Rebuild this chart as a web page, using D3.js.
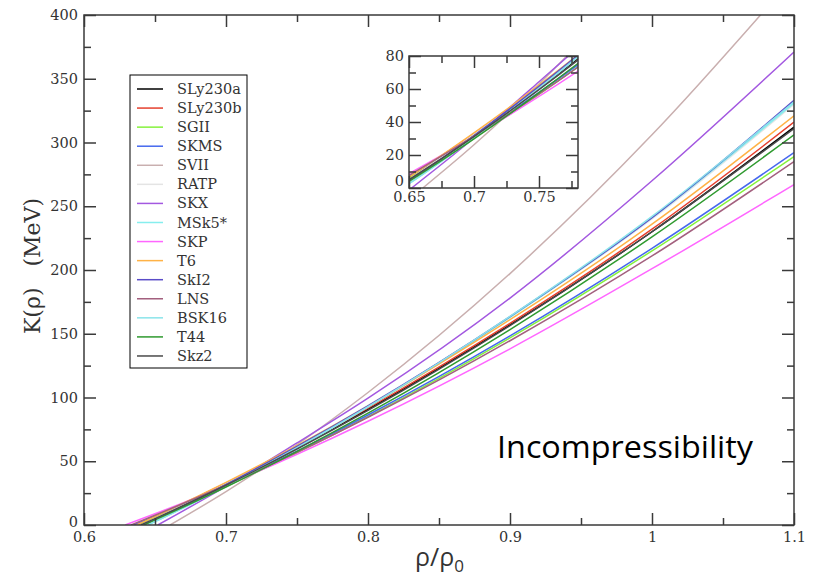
<!DOCTYPE html>
<html><head><meta charset="utf-8">
<script src="https://cdn.jsdelivr.net/npm/d3@7"></script>
<style>body{margin:0;background:#fff}svg{display:block}</style>
</head><body>
<svg id="c" width="817" height="582"></svg>
<script>
// ---------- data ----------
const seriesNames = ["SLy230a","SLy230b","SGII","SKMS","SVII","RATP","SKX","MSk5*","SKP","T6","SkI2","LNS","BSK16","T44","Skz2"];
const rhoGrid = [0.65, 0.7, 0.75, 0.8, 0.9, 1.0, 1.1];
const zeroRho = [0.637, 0.637, 0.637, 0.635, 0.6606, 0.640, 0.652, 0.645, 0.629, 0.637, 0.642, 0.633, 0.645, 0.642, 0.640];
const kSLy230a = [6.4, 32.5, 60.7, 90.8, 156.9, 230, 312];
const kSLy230b = [6.5, 32.8, 61.1, 91.6, 158.2, 232, 316];
const kSGII    = [6.0, 30.4, 56.7, 84.9, 146.7, 215, 289];
const kSKMS    = [7.0, 31.5, 57.9, 86.3, 148.3, 217, 292];
const kSVII    = [null, 26.2, 63.0, 103.9, 197.2, 306, 430];
const kRATP    = [5.2, 32.6, 62.1, 93.8, 163.1, 240, 330];
const kSKX     = [null, 30.3, 64.4, 99.5, 178.0, 270, 371];
const kMSk5    = [2.6, 30.4, 60.3, 92.5, 162.9, 241, 331];
const kSKP     = [8.8, 31.3, 55.5, 81.4, 138.2, 201, 267];
const kT6      = [6.6, 33.4, 62.3, 93.2, 161.0, 236, 321];
const kSkI2    = [4.2, 31.8, 61.6, 93.5, 163.5, 241, 333];
const kLNS     = [7.7, 31.4, 57.0, 84.5, 144.5, 211, 285];
const kBSK16   = [2.6, 30.5, 60.6, 92.8, 163.6, 242, 332];
const kT44     = [4.0, 29.8, 57.8, 87.7, 153.3, 226, 306];
const kSkz2    = [5.0, 31.2, 59.6, 89.9, 156.4, 230, 311];
const seriesValues = [kSLy230a,kSLy230b,kSGII,kSKMS,kSVII,kRATP,kSKX,kMSk5,kSKP,kT6,kSkI2,kLNS,kBSK16,kT44,kSkz2];

const xTicksMain = [0.6, 0.7, 0.8, 0.9, 1, 1.1];
const yTicksMain = [0, 50, 100, 150, 200, 250, 300, 350, 400];
const xTicksInset = [0.65, 0.7, 0.75];
const yTicksInset = [0, 20, 40, 60, 80];

// ---------- styles ----------
const colors = ["#000000","#e5402e","#86f23c","#4668ee","#c9afaf","#e4e4e4","#a358e0","#86eeee","#ff66ff","#ffb246","#5a4cc8","#a3607e","#8ae4ea","#2f9a2f","#4a4a4a"];
const serif = "DejaVu Serif";
const axisCol = "#3a3a3a";

const svg = d3.select("#c");
const defs = svg.append("defs");

function points(i){
  const pts = [[zeroRho[i], 0]];
  rhoGrid.forEach((r, j) => {
    const v = seriesValues[i][j];
    if (v !== null && r > zeroRho[i]) pts.push([r, v]);
  });
  return pts;
}

function drawPanel(cfg){
  const {x, y, id, xMajor, xMinor, yMajor, yMinor, fmtX, fmtY, padX, padY, zeroShift} = cfg;
  const [x0, x1] = x.range(), [y0, y1] = y.range();
  const g = svg.append("g");
  g.append("rect").attr("x", x0).attr("y", y1).attr("width", x1 - x0).attr("height", y0 - y1).attr("fill", "#fff");
  defs.append("clipPath").attr("id", id).append("rect")
    .attr("x", x0).attr("y", y1).attr("width", x1 - x0).attr("height", y0 - y1);
  const line = d3.line().x(d => x(d[0])).y(d => y(d[1])).curve(d3.curveMonotoneX);
  const lg = g.append("g").attr("clip-path", `url(#${id})`);
  seriesNames.forEach((n, i) => {
    lg.append("path").attr("d", line(points(i))).attr("fill", "none")
      .attr("stroke", colors[i]).attr("stroke-width", 1.5);
  });
  const mk = (axis, scale, vals, size, fmt, pad) =>
    axis(scale).tickValues(vals).tickSize(-size).tickPadding(pad).tickFormat(fmt);
  const addAxis = (gen, tx, ty) => {
    const a = g.append("g").attr("transform", `translate(${tx},${ty})`).call(gen);
    a.select(".domain").remove();
    a.selectAll("line").attr("stroke", axisCol).attr("stroke-width", 1.5);
    a.selectAll("text").attr("font-family", serif).attr("font-size", 14.5).attr("fill", "#333");
    return a;
  };
  addAxis(mk(d3.axisBottom, x, xMajor, 12, fmtX, padX), 0, y0);
  addAxis(mk(d3.axisBottom, x, xMinor, 7, "", padX), 0, y0);
  addAxis(mk(d3.axisTop, x, xMajor, 12, "", 0), 0, y1);
  addAxis(mk(d3.axisTop, x, xMinor, 7, "", 0), 0, y1);
  const ya = addAxis(mk(d3.axisLeft, y, yMajor, 12, fmtY, padY), x0, 0);
  ya.selectAll(".tick").filter(d => d === 0).select("text").attr("dy", zeroShift);
  addAxis(mk(d3.axisLeft, y, yMinor, 7, "", padY), x0, 0);
  addAxis(mk(d3.axisRight, y, yMajor, 12, "", 0), x1, 0);
  addAxis(mk(d3.axisRight, y, yMinor, 7, "", 0), x1, 0);
  g.append("rect").attr("x", x0).attr("y", y1).attr("width", x1 - x0).attr("height", y0 - y1)
    .attr("fill", "none").attr("stroke", axisCol).attr("stroke-width", 1.5);
  return g;
}

const fmtNum = d => String(+d.toFixed(3));

// main panel
const x = d3.scaleLinear().domain([0.6, 1.1]).range([84, 794]);
const y = d3.scaleLinear().domain([0, 400]).range([525, 15]);
drawPanel({x, y, id: "clipMain",
  xMajor: xTicksMain, xMinor: [0.65, 0.75, 0.85, 0.95, 1.05],
  yMajor: yTicksMain, yMinor: [25, 75, 125, 175, 225, 275, 325, 375],
  fmtX: fmtNum, fmtY: fmtNum, padX: 7, padY: 6, zeroShift: "0.1em"});

// inset panel
const xi = d3.scaleLinear().domain([0.65, 0.78]).range([409, 578]);
const yi = d3.scaleLinear().domain([0, 80]).range([188, 56]);
drawPanel({x: xi, y: yi, id: "clipInset",
  xMajor: xTicksInset, xMinor: [0.675, 0.725, 0.775],
  yMajor: yTicksInset, yMinor: [10, 30, 50, 70],
  fmtX: fmtNum, fmtY: fmtNum, padX: 4, padY: 5, zeroShift: "-0.15em"});

// axis titles
svg.append("text").attr("transform", "translate(40,266) rotate(-90)")
  .attr("text-anchor", "middle").attr("font-family", serif).attr("font-size", 22).attr("fill", "#333")
  .text("K(ρ)\u00a0\u00a0\u00a0(MeV)");
const xt = svg.append("text").attr("x", 415).attr("y", 566)
  .attr("font-family", "Open Sans").attr("font-size", 25).attr("fill", "#333");
xt.append("tspan").text("ρ/ρ");
xt.append("tspan").attr("font-size", 17).attr("dy", 6).text("0");

// annotation
svg.append("text").attr("x", 497).attr("y", 458).attr("font-family", "Open Sans")
  .attr("font-size", 31).attr("fill", "#000").attr("textLength", 256).attr("lengthAdjust", "spacingAndGlyphs")
  .text("Incompressibility");

// legend
const leg = svg.append("g");
leg.append("rect").attr("x", 130).attr("y", 75).attr("width", 117).attr("height", 293)
  .attr("fill", "#fff").attr("stroke", "#000").attr("stroke-width", 1);
seriesNames.forEach((n, i) => {
  const yy = 89 + i * 19.07;
  leg.append("line").attr("x1", 137).attr("x2", 163).attr("y1", yy).attr("y2", yy)
    .attr("stroke", colors[i]).attr("stroke-width", 1.5);
  leg.append("text").attr("x", 177).attr("y", yy).attr("dy", "0.35em")
    .attr("font-family", serif).attr("font-size", 14.5).attr("fill", "#333").text(n);
});
</script>
</body></html>
